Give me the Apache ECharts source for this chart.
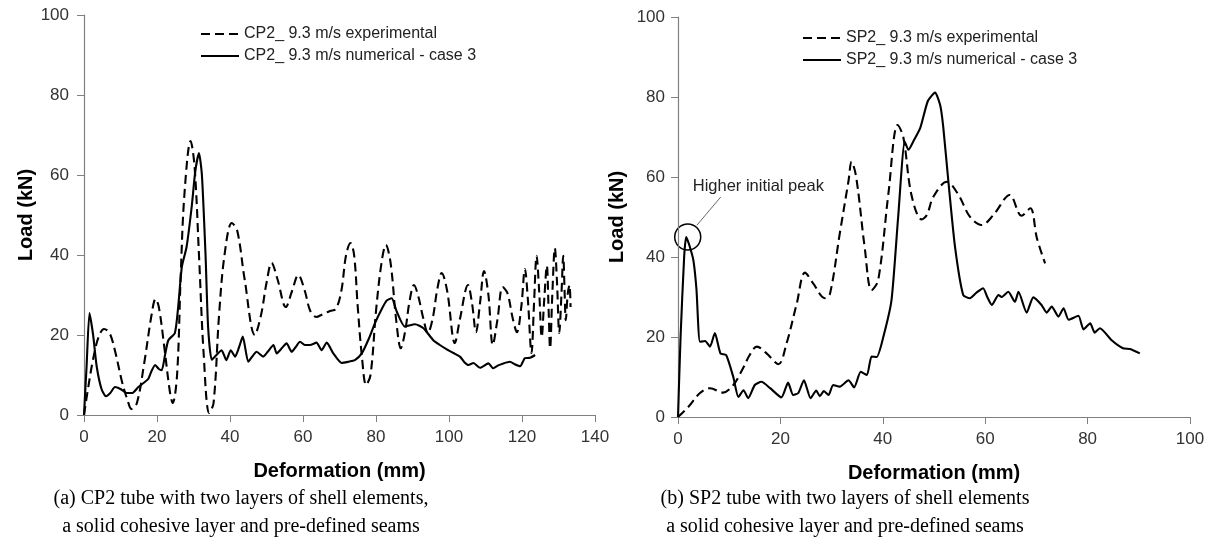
<!DOCTYPE html>
<html><head><meta charset="utf-8">
<script src="https://cdn.jsdelivr.net/npm/echarts@6/dist/echarts.min.js"></script>
<style>html,body{margin:0;padding:0;background:#fff}#c{width:1215px;height:544px}</style>
</head><body><div id="c"></div>
<script>
// ---- data (x: deformation mm, y: load kN) ----
const cpExp = [[0,0],[1,6],[2.5,14],[4,19.5],[5.5,21.5],[7,20.5],[8.5,16],[10.5,8],[12,3.5],[13,1.5],[14.5,3],[16.5,13],[18.5,25],[19.6,29],[20.5,27],[22,17],[23.5,6],[24.3,3],[25.5,10],[26.5,35],[27.5,55],[29.2,68.5],[30.3,62],[31.5,40],[32.8,15],[34.3,0.5],[35.5,3],[37,25],[38.5,40],[40.5,48],[42,46],[44,34],[46.8,20],[48.5,25],[50,33],[51.4,38],[53,34],[55.3,27],[57,31],[58.7,35],[60.5,31],[62,26],[63.7,24.5],[65,25],[67.4,26],[69,26.5],[70.5,31],[71.8,40],[73,43],[74,40],[75,27],[76.2,14],[77.3,7.5],[78.5,10],[80,26],[81.5,38],[82.7,42.5],[84,38],[85.5,24],[86.8,16.7],[88,21],[89.2,28.5],[90.4,32.5],[91.5,30],[93,24],[94.2,20.5],[95.5,24],[96.8,31.5],[98,35.5],[99.5,31],[101.6,18],[103,24],[105.2,32.5],[106.3,28],[107.4,20.7],[108.5,28],[109.6,36],[110.8,30],[112,17.5],[113.3,24],[114.7,32],[116,30.5],[117.5,24],[118.6,20.7],[119.8,27],[120.8,36.5],[121.6,29],[122.6,15.5],[123.3,28],[124,39.8],[124.7,31],[125.4,19.5],[126.1,29],[126.8,37.3],[127.3,26],[127.7,16.7],[128.3,30],[129,41.7],[129.6,33],[130.2,20.5],[130.8,30],[131.3,39.8],[131.7,30],[132,23.7],[132.5,30],[133,32.5],[133.3,27]];
const cpNum = [[0,0],[0.7,12],[1.5,25.5],[2.5,20],[3.5,12],[4.8,6.5],[6,4.7],[7.2,5.5],[8.5,7],[10,6.5],[11.7,5.5],[13.2,5.5],[14.9,7],[16.3,8],[17.6,9],[18.5,11],[19.5,12.5],[20.5,11.5],[21.3,11.2],[22.2,15],[23.1,18.7],[24.9,20.5],[25.8,27],[26.8,37],[28.1,42],[29.5,52],[30.5,61],[31.5,65.5],[32.3,60],[33.3,40],[34,22],[35,13.8],[36.3,15],[37.7,16.2],[39,13.7],[40.2,16.2],[41.4,14.6],[42.5,17],[43.5,19.6],[45,13.3],[46,14.5],[47.3,15.8],[49.1,14.6],[50.5,16],[51.9,17.5],[52.8,15.4],[54,16.5],[55.5,17.9],[56.9,15.8],[58,17],[59.2,18.3],[60.5,17.5],[61.9,17.5],[63.7,18.1],[65.1,16.2],[66.5,18.1],[68.3,15.4],[70.6,13],[72.4,13.3],[74.2,13.7],[76.1,15.4],[78,19],[79.7,22.9],[81.3,26],[82.9,28.6],[84.3,29.2],[85.7,25.8],[87.9,22.1],[90.7,22.7],[93,21.7],[95.7,18.7],[97.5,17.5],[99.4,16.4],[101.2,15.5],[103,14.6],[104.2,13.2],[105.3,12.5],[106.7,13],[108.5,11.8],[110.8,12.9],[112.1,11.7],[113.5,12.4],[114.9,12.9],[116.7,13.3],[118,12.7],[119.5,12.2],[120.8,14.2],[122.2,14.3],[123.6,15]];
const spExp = [[0,0],[2,2.5],[4.3,6],[6.25,7.2],[8.8,6.1],[10.8,8],[12.7,12.2],[14,15.5],[15.4,17.6],[17.3,15.9],[19.6,13.2],[21.2,18.4],[23.2,28.4],[24.8,36.1],[26.4,33.4],[28.7,29.7],[29.7,30.9],[31.6,45.9],[33.3,59],[33.9,63.8],[34.8,60],[36.5,42],[37.8,31.7],[39.1,34.2],[41.1,55.9],[42.9,73],[44,70],[45.6,55.5],[47.6,49.4],[48.6,50.5],[49.9,55.1],[52.5,58.8],[54.8,55.5],[57,50.1],[59.3,48],[61.6,50.5],[64.8,55.5],[67.1,50.3],[68.8,52.2],[70.1,44.7],[71.7,38.4]];
const spNum = [[0,0],[0.5,20],[1.2,40],[1.6,45],[2.2,43],[3,39.2],[3.6,32],[4.3,18.8],[5.3,19],[6.25,17.6],[7.2,21],[8.3,15.9],[9.4,15.5],[10.8,10],[11.8,5],[12.8,6.7],[13.7,4.7],[15,8],[16.3,8.8],[18,7.2],[20.2,4.9],[21.5,8.6],[22.5,5.5],[23.5,6],[24.6,9.2],[25.9,4.7],[27,6.6],[27.7,5.2],[28.5,6.5],[29.4,5.5],[30.3,8],[31.6,7.6],[33.3,9.2],[34.4,7.4],[35.7,11.3],[36.9,10.5],[37.8,15.1],[38.8,15],[40.1,20],[41.7,29.2],[43,50],[44.3,68.8],[45,66.8],[46,69],[47.3,72.2],[48.8,79],[50.2,81.1],[51.2,78],[51.8,72.6],[52.8,59],[54.1,42.6],[55.7,30.5],[57,29.7],[58.3,31.1],[59.6,32.2],[60.4,30],[61.3,28],[62.6,30.5],[63.2,30],[64.5,31.3],[65.8,28.8],[66.5,31.3],[68.1,26.1],[69.4,29.9],[71,28],[72,26.1],[73,27.6],[74.3,25.1],[75.3,27.2],[76.3,24.3],[78.2,25.3],[79.2,21.9],[80.5,23.4],[81.4,21.1],[82.4,22.2],[84.7,19.2],[86.9,17.2],[88.3,17],[90.2,15.9]];
const names = ['CP2_ 9.3 m/s experimental','CP2_ 9.3 m/s numerical - case 3','SP2_ 9.3 m/s experimental','SP2_ 9.3 m/s numerical - case 3'];
const xTitle = 'Deformation (mm)', yTitle = 'Load (kN)';
const captionA = ['(a) CP2 tube with two layers of shell elements,','a solid cohesive layer and pre-defined seams'];
const captionB = ['(b) SP2 tube with two layers of shell elements','a solid cohesive layer and pre-defined seams'];
const annotText = 'Higher initial peak';
const annotPoint = [1.9, 45];

const SANS = "'Liberation Sans', Arial, sans-serif";
const axisCol = '#808080', txtCol = '#333';
function xAx(gi, max) {
  return {type:'value', gridIndex:gi, min:0, max:max, interval:20,
    name:xTitle, nameLocation:'middle', nameGap:46,
    nameTextStyle:{fontFamily:SANS, fontWeight:'bold', fontSize:20, color:'#000'},
    axisLine:{lineStyle:{color:axisCol, width:1.2}}, axisTick:{length:7, lineStyle:{color:axisCol}},
    axisLabel:{margin:14, fontFamily:SANS, fontSize:17, color:txtCol}, splitLine:{show:false}};
}
function yAx(gi, gap, margin) {
  return {type:'value', gridIndex:gi, min:0, max:100, interval:20,
    name:yTitle, nameLocation:'middle', nameGap:gap,
    nameTextStyle:{fontFamily:SANS, fontWeight:'bold', fontSize:20, color:'#000'},
    axisLine:{show:true, lineStyle:{color:axisCol, width:1.2}}, axisTick:{show:true, length:7, lineStyle:{color:axisCol}},
    axisLabel:{margin:margin, fontFamily:SANS, fontSize:17, color:txtCol}, splitLine:{show:false}};
}
function ser(name, data, gi, dashed) {
  return {name:name, type:'line', xAxisIndex:gi, yAxisIndex:gi, data:data, showSymbol:false, symbol:'none',
    smooth: dashed ? 0.35 : 0.2, lineStyle:{color:'#000', width:2.1, type: dashed ? [9,5] : 'solid'}, itemStyle:{color:'#000'}};
}
const legendBase = {orient:'vertical', itemWidth:38, itemHeight:12, itemGap:6,
  itemStyle:{opacity:0}, textStyle:{fontFamily:SANS, fontSize:16, color:'#222'}};
const chart = echarts.init(document.getElementById('c'), null, {renderer:'canvas'});
chart.setOption({
  animation:false, backgroundColor:'#fff',
  grid:[{left:84, right:620, top:15, bottom:129}, {left:678, right:25, top:17, bottom:127}],
  xAxis:[xAx(0,140), xAx(1,100)],
  yAxis:[yAx(0,48,15), yAx(1,51,13)],
  legend:[
    Object.assign({data:[names[0],names[1]], left:195, top:21}, legendBase),
    Object.assign({data:[names[2],names[3]], left:797, top:25}, legendBase)
  ],
  series:[ser(names[0],cpExp,0,true), ser(names[1],cpNum,0,false), ser(names[2],spExp,1,true), ser(names[3],spNum,1,false)]
});
// annotation placed via axis scales
const c = chart.convertToPixel({gridIndex:1}, annotPoint);
const r = 13;
const p1 = [c[0]+r*0.7, c[1]-r*0.9];
const p2 = [c[0]+33, c[1]-40];
const capStyle = {fontFamily:"'Liberation Serif', 'Times New Roman', serif", fontSize:20, fill:'#000', align:'center', verticalAlign:'middle'};
chart.setOption({graphic:[
  {type:'circle', shape:{cx:c[0], cy:c[1], r:r}, style:{fill:'none', stroke:'#000', lineWidth:1.5}},
  {type:'line', shape:{x1:p1[0], y1:p1[1], x2:p2[0], y2:p2[1]}, style:{stroke:'#666', lineWidth:1}},
  {type:'text', x:c[0]+5, y:c[1]-51, style:{text:annotText, fontFamily:SANS, fontSize:16.5, fill:'#222', verticalAlign:'middle'}},
  {type:'text', x:241, y:499, style:Object.assign({text:captionA[0]}, capStyle)},
  {type:'text', x:241, y:527, style:Object.assign({text:captionA[1]}, capStyle)},
  {type:'text', x:845, y:499, style:Object.assign({text:captionB[0]}, capStyle)},
  {type:'text', x:845, y:527, style:Object.assign({text:captionB[1]}, capStyle)}
]});
</script></body></html>
